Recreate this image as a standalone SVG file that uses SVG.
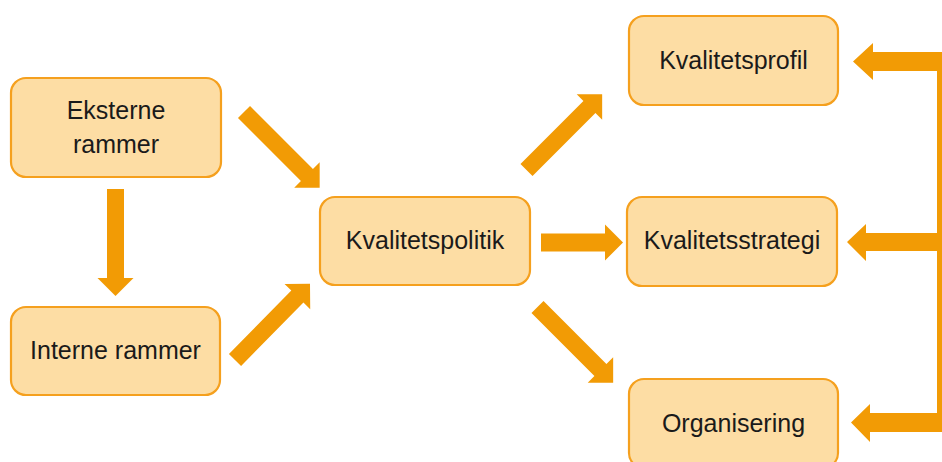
<svg xmlns="http://www.w3.org/2000/svg" xmlns:xlink="http://www.w3.org/1999/xlink" width="942" height="462" viewBox="0 0 942 462">
<style>
.box{fill:#FDDDA4;stroke:#F5A01E;stroke-width:2.2}
.lbl{font-family:"Liberation Sans",Arial,sans-serif;font-size:25px;fill:#1a1a1a;text-anchor:middle}
.arr{fill:#F29B05}
</style>
<defs>
<path id="a107" d="M0,-8.5 L89,-8.5 L89,-18 L107,0 L89,18 L89,8.5 L0,8.5 Z"/>
<path id="a82" d="M0,-9 L64,-9 L64,-18 L82,0 L64,18 L64,9 L0,9 Z"/>
</defs>
<rect width="942" height="462" fill="#ffffff"/>
<g id="connectors" class="arr">
<use xlink:href="#a107" href="#a107" transform="translate(244,112) rotate(45)"/>
<use xlink:href="#a107" href="#a107" transform="translate(115.5,189) rotate(90)"/>
<use xlink:href="#a107" href="#a107" transform="translate(235,360) rotate(-45.5)"/>
<use xlink:href="#a107" href="#a107" transform="translate(526.5,170) rotate(-45)"/>
<use xlink:href="#a82" href="#a82" transform="translate(541,242.5)"/>
<use xlink:href="#a107" href="#a107" transform="translate(537.5,307) rotate(45)"/>
<path d="M960,52 L873,52 L873,43 L853,61.5 L873,80 L873,71 L937,71 L937,233 L866,233 L866,224 L847,242 L866,261 L866,251 L937,251 L937,413 L870,413 L870,404 L851,422.5 L870,442 L870,432 L960,432 Z"/>
</g>
<g id="eksterne">
<rect class="box" x="11" y="78" width="210" height="99" rx="15"/>
<text class="lbl" x="116" y="119">Eksterne</text>
<text class="lbl" x="116" y="153">rammer</text>
</g>
<g id="interne">
<rect class="box" x="11" y="307" width="209" height="88" rx="15"/>
<text class="lbl" x="115.5" y="359">Interne rammer</text>
</g>
<g id="politik">
<rect class="box" x="320" y="197" width="210" height="88" rx="15"/>
<text class="lbl" x="425" y="249">Kvalitetspolitik</text>
</g>
<g id="profil">
<rect class="box" x="629" y="16" width="209" height="89" rx="15"/>
<text class="lbl" x="733.5" y="69">Kvalitetsprofil</text>
</g>
<g id="strategi">
<rect class="box" x="627" y="197" width="210" height="89" rx="15"/>
<text class="lbl" x="732" y="249">Kvalitetsstrategi</text>
</g>
<g id="organisering">
<rect class="box" x="629" y="379" width="209" height="89" rx="15"/>
<text class="lbl" x="733.5" y="432">Organisering</text>
</g>
</svg>
